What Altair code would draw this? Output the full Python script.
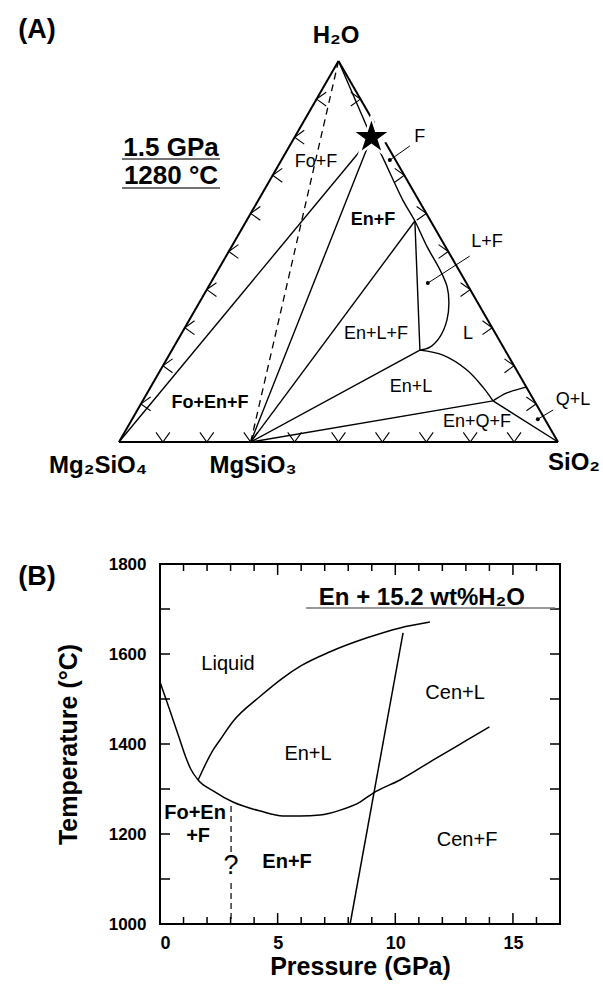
import math
import altair as alt
import pandas as pd

FONT = "Liberation Sans"

# ================= Panel A : ternary Mg2SiO4 - SiO2 - H2O =================
# every point is a composition (SiO2 fraction, H2O fraction)
MG2SIO4 = (0.0, 0.0)
SIO2 = (1.0, 0.0)
H2O = (0.0, 1.0)
MGSIO3 = (0.30, 0.0)
STAR = (0.175, 0.80)
P1 = (0.384, 0.580)
P2 = (0.565, 0.241)
P3 = (0.798, 0.108)
P4 = (0.856, 0.144)

EDGE_BASE = [MG2SIO4, SIO2]
EDGE_LEFT = [MG2SIO4, H2O]
EDGE_RIGHT_TOP = [H2O, (0.163, 0.837)]
EDGE_RIGHT_BOTTOM = [(0.213, 0.787), SIO2]

TIE_FO_STAR = [MG2SIO4, STAR]
TIE_EN_STAR = [MGSIO3, STAR]
TIE_EN_P1 = [MGSIO3, P1]
TIE_EN_P2 = [MGSIO3, P2]
TIE_EN_P3 = [MGSIO3, P3]
TIE_P1_P2 = [P1, P2]
TIE_P3_SIO2 = [P3, SIO2]
FLUID_SAT_TOP = [H2O, STAR]
FLUID_SAT = [STAR, (0.204, 0.772), (0.329, 0.635), P1, (0.446, 0.512),
             (0.506, 0.451), (0.544, 0.407), (0.569, 0.365), (0.587, 0.320),
             (0.593, 0.276), (0.584, 0.249), P2]
EN_LIQ = [P2, (0.624, 0.228), (0.698, 0.189), (0.757, 0.144), P3]
QZ_LIQ = [P3, (0.819, 0.129), P4]
DASHED_EN_H2O = [MGSIO3, H2O]

LEADER_F = [(0.247, 0.740), (0.274, 0.777)]
LEADER_LF = [(0.495, 0.417), (0.555, 0.488)]
LEADER_QL = [(0.924, 0.060), (0.947, 0.084)]
DOTS = [(0.247, 0.740), (0.495, 0.417), (0.924, 0.060)]

TICK_FRACS = [0.1, 0.2, 0.3, 0.4, 0.5, 0.6, 0.7, 0.8, 0.9]
RIGHT_TICK_FRACS = [0.1, 0.2, 0.3, 0.4, 0.5, 0.6, 0.7, 0.9]

A_LABELS_NORMAL = [("Fo+F", 0.081, 0.735), ("F", 0.285, 0.800), ("L+F", 0.576, 0.525),
                   ("L", 0.653, 0.2835), ("En+L+F", 0.4437, 0.2835), ("En+L", 0.593, 0.144),
                   ("En+Q+F", 0.789, 0.0525), ("Q+L", 0.979, 0.110)]
A_LABELS_BOLD = [("En+F", 0.287, 0.583), ("Fo+En+F", 0.156, 0.1024)]
A_VERTEX_LABELS = [("H₂O", -0.0385, 1.0656), ("Mg₂SiO₄", -0.016, -0.063),
                   ("MgSiO₃", 0.3367, -0.063), ("SiO₂", 1.064, -0.055)]

# ================= Panel B : P-T diagram =================
SOLIDUS_P = [0.0, 0.4, 0.8, 1.1, 1.3, 1.62, 2.26, 3.1, 4.26, 5.23, 5.96,
             6.8, 7.66, 8.5, 9.06, 10.2, 11.6, 13.06, 14.0]
SOLIDUS_T = [1538, 1478, 1416, 1370, 1345, 1320, 1296, 1271, 1251, 1240, 1240,
             1242, 1253, 1271, 1291, 1320, 1364, 1409, 1438]
LIQUIDUS_P = [1.62, 2.26, 2.55, 3.1, 4.26, 5.23, 6.0, 7.23, 8.8, 10.2, 11.47]
LIQUIDUS_T = [1320, 1387, 1409, 1450, 1506, 1547, 1574, 1605, 1636, 1658, 1671]
EN_CEN_P = [8.08, 10.33]
EN_CEN_T = [1000, 1647]
QUERY_UPPER_P = [3.02, 3.02]
QUERY_UPPER_T = [1262, 1160]
QUERY_LOWER_P = [3.02, 3.02]
QUERY_LOWER_T = [1091, 1000]

X_MAJOR = [5, 10, 15]
X_MINOR = [1, 2, 3, 4, 6, 7, 8, 9, 11, 12, 13, 14, 16]
Y_TICKS = [1100, 1200, 1300, 1400, 1500, 1600, 1700]

B_LABELS_NORMAL = [("Liquid", 2.89, 1578), ("En+L", 6.29, 1378), ("Cen+L", 12.54, 1513),
                   ("Cen+F", 13.05, 1187)]
B_LABELS_BOLD = [("En+F", 5.40, 1138), ("Fo+En", 1.49, 1247), ("+F", 1.62, 1196)]
B_QUERY = [("?", 3.02, 1129)]
B_TITLE = [("En + 15.2 wt%H₂O", 11.13, 1724)]
B_TITLE_RULE = [(6.2, 1702), (16.79, 1702)]

# ----------------------------------------------------------------------
def seg_rows(name, pts):
    return [{"seg": name, "i": i, "si": s, "h": h} for i, (s, h) in enumerate(pts)]


def table(segs):
    out = []
    for name, pts in segs:
        out += seg_rows(name, pts)
    return pd.DataFrame(out)


XA = alt.X("cx:Q", scale=alt.Scale(domain=[0, 1], range=[-41, 398], nice=False, zero=False), axis=None)
YA = alt.Y("cy:Q", scale=alt.Scale(domain=[0, math.sqrt(3) / 2], range=[-122, -503], nice=False, zero=False), axis=None)


def tern(df):
    return alt.Chart(df).transform_calculate(
        cx="datum.si + datum.h / 2", cy="datum.h * sqrt(3) / 2")


def tern_lines(segs, **style):
    return tern(table(segs)).mark_line(color="black", **style).encode(
        x=XA, y=YA, detail="seg:N", order="i:Q")


edges = tern_lines([("b", EDGE_BASE), ("l", EDGE_LEFT), ("rt", EDGE_RIGHT_TOP),
                    ("rb", EDGE_RIGHT_BOTTOM)], strokeWidth=2)
inner = tern_lines([("a", TIE_FO_STAR), ("b", TIE_EN_STAR), ("c", TIE_EN_P1), ("d", TIE_EN_P2),
                    ("e", TIE_EN_P3), ("f", TIE_P1_P2), ("g", TIE_P3_SIO2), ("h0", FLUID_SAT_TOP)],
                   strokeWidth=1.4)
curves_a = tern_lines([("h", FLUID_SAT), ("k", EN_LIQ), ("m", QZ_LIQ)],
                      strokeWidth=1.4, interpolate="catmull-rom")
dashed = tern_lines([("d", DASHED_EN_H2O)], strokeWidth=1.3, strokeDash=[7, 5])
leaders = tern_lines([("f", LEADER_F), ("lf", LEADER_LF), ("ql", LEADER_QL)], strokeWidth=1)

dots = tern(pd.DataFrame([{"si": s, "h": h} for s, h in DOTS])).mark_point(
    shape="circle", filled=True, color="black", size=16, opacity=1).encode(x=XA, y=YA)

CHEV_RIGHT = "M -1.4 -1 L 0 0 L -1.4 1"
CHEV_LEFT = "M 1.4 -1 L 0 0 L 1.4 1"
CHEV_DOWN = "M -1 -1.4 L 0 0 L 1 -1.4"
chev_style = dict(filled=False, stroke="black", strokeWidth=1.1, size=190, opacity=1)

left_ticks = tern(pd.DataFrame({"si": [0.0] * len(TICK_FRACS), "h": TICK_FRACS})).mark_point(
    shape=CHEV_LEFT, **chev_style).encode(x=XA, y=YA)
right_ticks = tern(pd.DataFrame({"si": [1 - f for f in RIGHT_TICK_FRACS], "h": RIGHT_TICK_FRACS})).mark_point(
    shape=CHEV_RIGHT, **chev_style).encode(x=XA, y=YA)
base_ticks = tern(pd.DataFrame({"si": TICK_FRACS, "h": [0.0] * len(TICK_FRACS)})).mark_point(
    shape=CHEV_DOWN, **chev_style).encode(x=XA, y=YA)

star_pts = []
for k in range(10):
    r = 1.0 if k % 2 == 0 else 0.382
    ang = math.radians(-90 + 36 * k)
    star_pts.append(f"{r * math.cos(ang):.3f} {r * math.sin(ang):.3f}")
STAR_PATH = "M " + " L ".join(star_pts) + " Z"

star = tern(pd.DataFrame([{"si": STAR[0], "h": STAR[1]}])).mark_point(
    shape=STAR_PATH, filled=True, fill="black", stroke="white", strokeWidth=2.5, size=1700, opacity=1
).encode(x=XA, y=YA)


def a_text(rows, size, weight):
    df = pd.DataFrame([{"t": t, "si": s, "h": h} for t, s, h in rows])
    return tern(df).mark_text(font=FONT, fontSize=size, fontWeight=weight, color="black",
                              align="center", baseline="middle").encode(x=XA, y=YA, text="t:N")


a_norm = a_text(A_LABELS_NORMAL, 18, "normal")
a_bold = a_text(A_LABELS_BOLD, 18, "bold")
a_vert = a_text(A_VERTEX_LABELS, 24, "bold")

a_tag = alt.Chart(pd.DataFrame({"t": ["(A)"]})).mark_text(
    font=FONT, fontSize=27, fontWeight="bold", align="center", baseline="middle", color="black"
).encode(x=alt.value(-123), y=alt.value(-534), text="t:N")
a_cond1 = alt.Chart(pd.DataFrame({"t": ["1.5 GPa"]})).mark_text(
    font=FONT, fontSize=26, fontWeight="bold", align="center", baseline="middle", color="black"
).encode(x=alt.value(11), y=alt.value(-416), text="t:N")
a_cond2 = alt.Chart(pd.DataFrame({"t": ["1280 °C"]})).mark_text(
    font=FONT, fontSize=26, fontWeight="bold", align="center", baseline="middle", color="black"
).encode(x=alt.value(11), y=alt.value(-388), text="t:N")
a_ul1 = alt.Chart(pd.DataFrame({"t": ["u"]})).mark_rule(color="#444", strokeWidth=1.5).encode(
    x=alt.value(-38), x2=alt.value(60), y=alt.value(-405))
a_ul2 = alt.Chart(pd.DataFrame({"t": ["u"]})).mark_rule(color="#444", strokeWidth=1.5).encode(
    x=alt.value(-38), x2=alt.value(60), y=alt.value(-376))

panel_a = alt.layer(edges, inner, curves_a, dashed, leaders, dots, left_ticks, right_ticks,
                    base_ticks, star, a_norm, a_bold, a_vert, a_tag, a_cond1, a_cond2, a_ul1, a_ul2)

# ---------------- Panel B ----------------
XB = alt.X("P:Q", scale=alt.Scale(domain=[0, 17], nice=False, zero=False),
           axis=alt.Axis(orient="bottom", values=[0, 5, 10, 15], format="d", ticks=False, domain=False,
                         grid=False, labelFont=FONT, labelFontSize=18, labelFontWeight="bold",
                         labelColor="black", labelPadding=10, title="Pressure (GPa)", titleFont=FONT,
                         titleFontSize=25, titleFontWeight="bold", titleColor="black", titlePadding=2))
YB = alt.Y("T:Q", scale=alt.Scale(domain=[1000, 1800], nice=False, zero=False),
           axis=alt.Axis(orient="left", values=[1000, 1200, 1400, 1600, 1800], format="d", ticks=False,
                         domain=False, grid=False, labelFont=FONT, labelFontSize=17,
                         labelFontWeight="bold", labelColor="black", labelPadding=14,
                         title="Temperature (°C)", titleFont=FONT, titleFontSize=25,
                         titleFontWeight="bold", titleColor="black", titlePadding=27))


def curve(name, ps, ts):
    return [{"seg": name, "i": i, "P": p, "T": t} for i, (p, t) in enumerate(zip(ps, ts))]


b_curves_df = pd.DataFrame(curve("sol", SOLIDUS_P, SOLIDUS_T) + curve("liq", LIQUIDUS_P, LIQUIDUS_T))
b_curves = alt.Chart(b_curves_df).mark_line(color="black", strokeWidth=1.5, interpolate="monotone").encode(
    x=XB, y=YB, detail="seg:N", order="i:Q")
b_straight = alt.Chart(pd.DataFrame(curve("encen", EN_CEN_P, EN_CEN_T))).mark_line(
    color="black", strokeWidth=1.5).encode(x=XB, y=YB, detail="seg:N", order="i:Q")
b_dash_df = pd.DataFrame(curve("q1", QUERY_UPPER_P, QUERY_UPPER_T) + curve("q2", QUERY_LOWER_P, QUERY_LOWER_T))
b_dash = alt.Chart(b_dash_df).mark_line(color="black", strokeWidth=1.2, strokeDash=[6, 4]).encode(
    x=XB, y=YB, detail="seg:N", order="i:Q")

xmaj = pd.DataFrame({"P": X_MAJOR})
xmin = pd.DataFrame({"P": X_MINOR})
yt = pd.DataFrame({"T": Y_TICKS})
tick_style = dict(color="black", strokeWidth=1.5)
b_ticks = [
    alt.Chart(xmaj).mark_rule(**tick_style).encode(x=XB, y=alt.value(360), y2=alt.value(349)),
    alt.Chart(xmaj).mark_rule(**tick_style).encode(x=XB, y=alt.value(0), y2=alt.value(11)),
    alt.Chart(xmin).mark_rule(**tick_style).encode(x=XB, y=alt.value(360), y2=alt.value(353)),
    alt.Chart(xmin).mark_rule(**tick_style).encode(x=XB, y=alt.value(0), y2=alt.value(7)),
    alt.Chart(yt).mark_rule(**tick_style).encode(y=YB, x=alt.value(0), x2=alt.value(10)),
    alt.Chart(yt).mark_rule(**tick_style).encode(y=YB, x=alt.value(400), x2=alt.value(390)),
]


def b_text(rows, size, weight):
    df = pd.DataFrame([{"t": t, "P": p, "T": tt} for t, p, tt in rows])
    return alt.Chart(df).mark_text(font=FONT, fontSize=size, fontWeight=weight, color="black",
                                   align="center", baseline="middle").encode(x=XB, y=YB, text="t:N")


b_norm = b_text(B_LABELS_NORMAL, 20, "normal")
b_bold = b_text(B_LABELS_BOLD, 20, "bold")
b_q = b_text(B_QUERY, 27, "normal")
b_title = b_text(B_TITLE, 24, "bold")
b_title_rule = alt.Chart(pd.DataFrame({"P": [B_TITLE_RULE[0][0]], "P2": [B_TITLE_RULE[1][0]],
                                       "T": [B_TITLE_RULE[0][1]]})).mark_rule(
    color="#777", strokeWidth=1.5).encode(x=XB, x2="P2:Q", y=YB)
b_tag = alt.Chart(pd.DataFrame({"t": ["(B)"]})).mark_text(
    font=FONT, fontSize=27, fontWeight="bold", align="center", baseline="middle", color="black"
).encode(x=alt.value(-123), y=alt.value(13), text="t:N")

panel_b = alt.layer(b_curves, b_straight, b_dash, *b_ticks, b_norm, b_bold, b_q, b_title,
                    b_title_rule, b_tag)

chart = alt.layer(panel_b, panel_a).resolve_scale(x="independent", y="independent").properties(
    width=400, height=360,
    autosize=alt.AutoSizeParams(type="none"),
    padding={"left": 160, "top": 564, "right": 43, "bottom": 60},
    background="white",
).configure_view(stroke="black", strokeWidth=2)

chart.save("out.html", embed_options={"renderer": "svg", "actions": False})
